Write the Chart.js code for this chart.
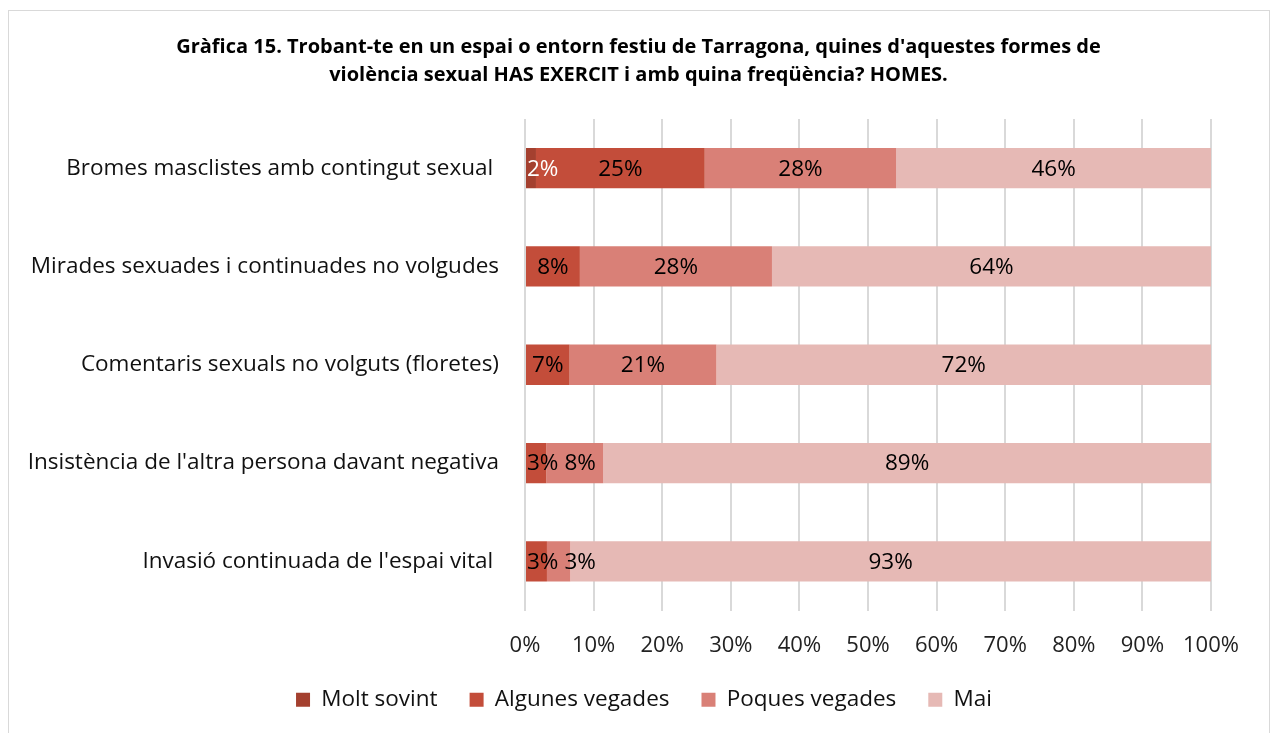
<!DOCTYPE html>
<html>
<head>
<meta charset="utf-8">
<script src="https://cdn.jsdelivr.net/npm/chart.js@4.4.1/dist/chart.umd.min.js"></script>
<style>
  html, body { margin: 0; padding: 0; background: #fff; }
  #wrap { position: absolute; left: 0; top: 0; width: 1273px; height: 733px; }
</style>
</head>
<body>
<div id="wrap"><canvas id="chart" width="1273" height="733"></canvas></div>
<script>
// categories, top to bottom (trailing spaces as in the source sheet)
var categories = [
    'Bromes masclistes amb contingut sexual ',
    'Mirades sexuades i continuades no volgudes',
    'Comentaris sexuals no volguts (floretes)',
    "Insistència de l'altra persona davant negativa",
    "Invasió continuada de l'espai vital "
];
var seriesNames = ['Molt sovint', 'Algunes vegades', 'Poques vegades', 'Mai'];
var moltSovint = [1.6, 0, 0, 0, 0];
var algunesVegades = [24.6, 8.0, 6.5, 3.1, 3.2];
var poquesVegades = [27.9, 28.0, 21.4, 8.3, 3.4];
var mai = [45.9, 64.0, 72.1, 88.6, 93.4];
var xTicks = [0, 10, 20, 30, 40, 50, 60, 70, 80, 90, 100];
var colors = ['#A4402F', '#C34D3A', '#D98077', '#E6B9B5'];
var labelColors = ['#ffffff', '#000000', '#000000', '#000000'];

var FONT = "'Open Sans', 'Noto Sans', sans-serif";

var frame = {
    id: 'frame',
    beforeDraw: function (chart) {
        var c = chart.ctx;
        c.save();
        c.fillStyle = '#fff';
        c.fillRect(0, 0, chart.width, chart.height);
        c.strokeStyle = '#d9d9d9';
        c.lineWidth = 1;
        c.strokeRect(8.5, 10.5, 1261, 800);
        c.restore();
    },
    afterLayout: function (chart) {
        // centre title and legend on the whole frame
        if (chart.titleBlock) {
            chart.titleBlock.left = 8;
            chart.titleBlock.right = 1269;
            chart.titleBlock.width = 1261;
        }
        if (chart.legend) {
            chart.legend.left = 8;
            chart.legend.right = 1280;
            chart.legend.width = 1272;
        }
    }
};

var barLabels = {
    id: 'barLabels',
    afterDatasetsDraw: function (chart) {
        var c = chart.ctx;
        var left = chart.chartArea.left;
        var lastRight = {};
        c.save();
        c.font = '22.5px ' + FONT;
        c.textAlign = 'center';
        c.textBaseline = 'middle';
        chart.data.datasets.forEach(function (ds, i) {
            chart.getDatasetMeta(i).data.forEach(function (bar, j) {
                var v = ds.data[j];
                if (!v) return;
                var txt = Math.round(v) + '%';
                var w = c.measureText(txt).width;
                var x = Math.max((bar.x + bar.base) / 2, left + 2 + w / 2);
                if (lastRight[j] !== undefined) x = Math.max(x, lastRight[j] + 6 + w / 2);
                lastRight[j] = x + w / 2;
                c.fillStyle = labelColors[i];
                c.fillText(txt, x, bar.y + 1);
            });
        });
        c.restore();
    }
};

var ctx = document.getElementById('chart').getContext('2d');
var chart = new Chart(ctx, {
    type: 'bar',
    data: {
        labels: categories,
        datasets: [
            { label: seriesNames[0], data: moltSovint, backgroundColor: colors[0] },
            { label: seriesNames[1], data: algunesVegades, backgroundColor: colors[1] },
            { label: seriesNames[2], data: poquesVegades, backgroundColor: colors[2] },
            { label: seriesNames[3], data: mai, backgroundColor: colors[3] }
        ]
    },
    options: {
        indexAxis: 'y',
        responsive: false,
        animation: false,
        datasets: { bar: { categoryPercentage: 1, barPercentage: 0.41 } },
        layout: { padding: { left: 8, right: 62, top: 33, bottom: 12 } },
        scales: {
            x: {
                stacked: true,
                min: 0,
                max: 100,
                afterBuildTicks: function (scale) {
                    scale.ticks = xTicks.map(function (v) { return { value: v }; });
                },
                afterFit: function (scale) { scale.height = 46; },
                ticks: {
                    callback: function (v) { return v + '%'; },
                    font: { family: FONT, size: 22 },
                    color: '#222',
                    padding: 22
                },
                grid: { color: '#d9d9d9', lineWidth: 2, drawTicks: false },
                border: { display: false }
            },
            y: {
                stacked: true,
                ticks: {
                    font: { family: FONT, size: 22.5 },
                    color: '#111',
                    padding: 26
                },
                grid: { display: false, drawTicks: false },
                border: { display: false },
                afterFit: function (scale) { scale.width = 517; }
            }
        },
        plugins: {
            title: {
                display: true,
                text: [
                    "Gràfica 15. Trobant-te en un espai o entorn festiu de Tarragona, quines d'aquestes formes de",
                    'violència sexual HAS EXERCIT i amb quina freqüència? HOMES.'
                ],
                font: { family: FONT, size: 20, weight: 'bold', lineHeight: 1.4 },
                color: '#000',
                padding: { top: 0, bottom: 30 }
            },
            legend: {
                position: 'bottom',
                labels: {
                    font: { family: FONT, size: 22.5 },
                    color: '#111',
                    boxWidth: 14,
                    boxHeight: 14,
                    padding: 32
                }
            },
            tooltip: { enabled: false }
        }
    },
    plugins: [frame, barLabels]
});
</script>
</body>
</html>
